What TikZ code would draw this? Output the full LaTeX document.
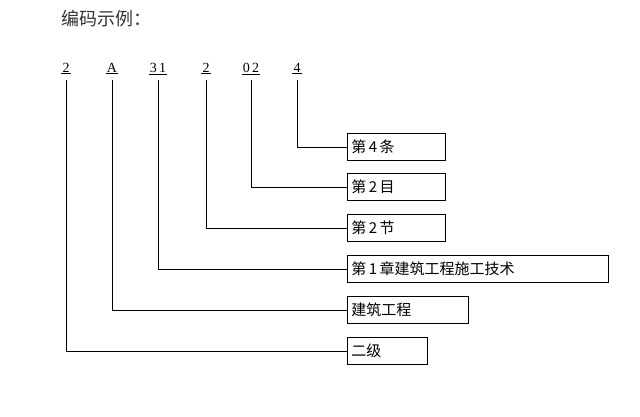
\documentclass[tikz,border=0pt]{standalone}
\usepackage{fontspec}
\setmainfont{Liberation Serif}
\newfontfamily\cjk{Noto Sans CJK SC}
\usetikzlibrary{positioning}
\tikzset{
  code/.style={inner sep=1pt, font=\fontsize{14}{15}\selectfont},
  item/.style={draw, thick, anchor=west, minimum height=27pt, inner xsep=4pt, align=left, font=\cjk\fontsize{15}{16}\selectfont},
  link/.style={thick}
}
\begin{document}
\begin{tikzpicture}[x=1pt,y=-1pt]
        \useasboundingbox (0,0) rectangle (640,417);
        % Title
        \node[anchor=west, font=\cjk\fontsize{18}{20}\selectfont, text=black!80] (title) at (58,19) {编码示例：};

        % Code digits
        \node[code] (c1) at (66,68) {2};
        \node[code] (c2) at (112,68) {A};
        \node[code] (c3) at (158,68) {3\,1};
        \node[code] (c4) at (206,68) {2};
        \node[code] (c5) at (251,68) {0\,2};
        \node[code] (c6) at (297,68) {4};
        \foreach \n in {c1,c2,c3,c4,c5,c6}
            \draw[link] (\n.south west) -- (\n.south east);

        % Boxes
        \node[item, text width=90pt] (b6) at (347,147) {第\,4\,条};
        \node[item, text width=90pt] (b5) at (347,187) {第\,2\,目};
        \node[item, text width=90pt] (b4) at (347,228) {第\,2\,节};
        \node[item, text width=253pt] (b3) at (347,269) {第\,1\,章建筑工程施工技术};
        \node[item, text width=113pt] (b2) at (347,310) {建筑工程};
        \node[item, text width=72pt] (b1) at (347,351) {二级};

        % Connectors
        \foreach \i in {1,...,6}
            \draw[link] ([yshift=-6pt]c\i.south) |- (b\i.west);
    \end{tikzpicture}
\end{document}
